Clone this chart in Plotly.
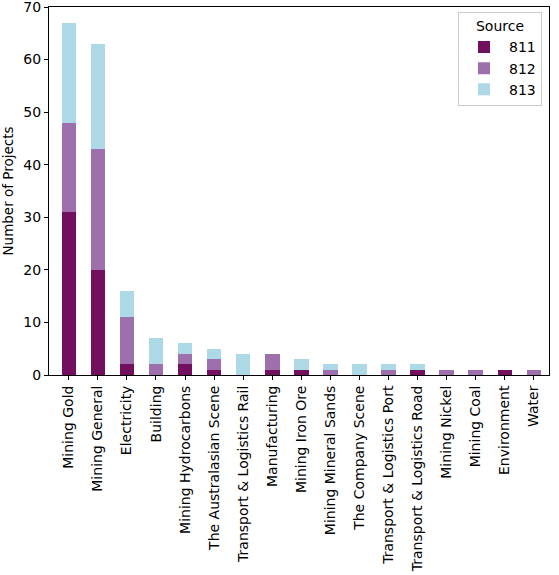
"""Stacked bar chart: number of projects per sector by source."""

import plotly.graph_objects as go

categories = [
    "Mining Gold", "Mining General", "Electricity", "Building",
    "Mining Hydrocarbons", "The Australasian Scene",
    "Transport & Logistics Rail", "Manufacturing", "Mining Iron Ore",
    "Mining Mineral Sands", "The Company Scene",
    "Transport & Logistics Port", "Transport & Logistics Road",
    "Mining Nickel", "Mining Coal", "Environment", "Water",
]
source_811 = [31, 20, 2, 0, 2, 1, 0, 1, 1, 0, 0, 0, 1, 0, 0, 1, 0]
source_812 = [17, 23, 9, 2, 2, 2, 0, 3, 0, 1, 0, 1, 0, 1, 1, 0, 1]
source_813 = [19, 20, 5, 5, 2, 2, 4, 0, 2, 1, 2, 1, 1, 0, 0, 0, 0]

series = [
    ("811", source_811, "#730f5f"),
    ("812", source_812, "#9e6fad"),
    ("813", source_813, "#add8e6"),
]

x_pos = list(range(len(categories)))

fig = go.Figure()
for name, values, colour in series:
    fig.add_bar(x=x_pos, y=values, name=name, marker_color=colour,
                marker_line_width=0, width=0.5)

fig.update_layout(
    barmode="stack",
    width=559, height=575,
    margin=dict(l=49, r=10, t=7, b=200, autoexpand=False),
    plot_bgcolor="white", paper_bgcolor="white",
    font=dict(family="DejaVu Sans", size=14, color="black"),
    legend=dict(
        title=dict(text="Source", side="top center", font=dict(size=14)),
        x=0.986, y=0.986, xanchor="right", yanchor="top",
        bordercolor="#cccccc", borderwidth=1, bgcolor="white",
        traceorder="normal", font=dict(size=14), itemwidth=40,
    ),
    showlegend=True,
)
fig.update_xaxes(
    tickmode="array", tickvals=x_pos, ticktext=categories,
    tickangle=-90, range=[-0.68, 16.52], automargin=False,
    showline=True, linecolor="black", mirror=True, linewidth=1,
    ticks="outside", ticklen=4, tickcolor="black", showgrid=False,
)
fig.update_yaxes(
    title_text="Number of Projects", title_font=dict(size=13.5),
    title_standoff=8, automargin=False, ticklabeloverflow="allow",
    range=[0, 70], dtick=10,
    showline=True, linecolor="black", mirror=True, linewidth=1,
    ticks="outside", ticklen=4, tickcolor="black", showgrid=False,
    zeroline=False,
)

# drop the default page margin so the figure sits at the window corner
fig.write_html(
    "out.html",
    config={"displayModeBar": False},
    post_script="document.body.style.margin = '0';",
)
